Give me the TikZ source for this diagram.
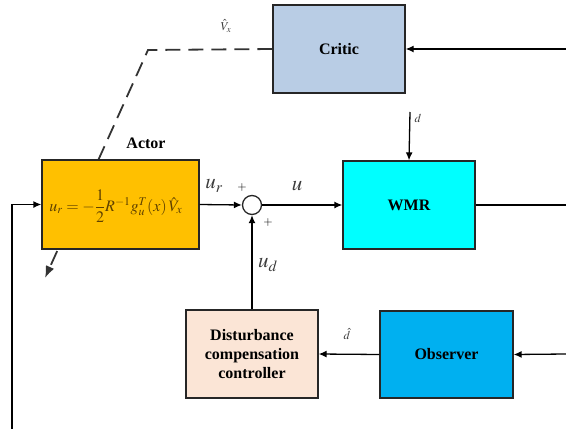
\documentclass[tikz,border=0pt]{standalone}
\usepackage{amsmath}
\usepackage{mathptmx}
\usepackage{fontspec}
\setmainfont{Liberation Serif}
\usetikzlibrary{arrows.meta,backgrounds}
\definecolor{criticblue}{RGB}{185,205,229}
\definecolor{actorgold}{RGB}{255,192,0}
\definecolor{wmrcyan}{RGB}{0,255,255}
\definecolor{dccpeach}{RGB}{251,229,214}
\definecolor{obsblue}{RGB}{0,176,240}
\definecolor{eqbrown}{RGB}{95,65,0}
\definecolor{labelgray}{RGB}{60,60,60}
\tikzset{
  block/.style={draw=black!85, line width=1.3pt, minimum width=132pt, minimum height=88pt,
    font=\fontsize{16}{19}\selectfont\bfseries, align=center, inner sep=0pt},
  sig/.style={line width=1.3pt, -{Latex[length=8pt,width=7pt]}},
  lbl/.style={text=labelgray, font=\fontsize{21}{23}\selectfont},
  small/.style={text=labelgray, font=\fontsize{12}{14}\selectfont}
}
\begin{document}
\begin{tikzpicture}[x=1pt, y=-1pt]
\useasboundingbox (0,0) rectangle (566,429);
% blocks
\node[block, fill=criticblue] (critic) at (339,49) {Critic};
\node[block, fill=actorgold, minimum width=157pt, minimum height=89pt] (actor) at (120.5,204.5) {};
\node[text=eqbrown, font=\fontsize{16}{18}\selectfont] (eq) at (116,206)
  {$u_r=-\dfrac{1}{2}R^{-1}g_u^T(x)\,\hat{V}_x$};
\node[font=\fontsize{16}{19}\selectfont\bfseries] (actorlbl) at (146,143) {Actor};
\node[block, fill=wmrcyan] (wmr) at (409,205) {WMR};
\node[draw=black!85, line width=1.3pt, circle, fill=white, minimum size=19pt, inner sep=0pt] (sum) at (252,205) {};
\node[block, fill=dccpeach] (dcc) at (252,354) {Disturbance\\compensation\\controller};
\node[block, fill=obsblue, minimum width=133pt, minimum height=87pt] (obs) at (446.5,354.5) {Observer};

% free ends
\coordinate (cin) at (566,49);
\coordinate (wout) at (566,205);
\coordinate (oin) at (566,354);
\coordinate (dist) at (410,112);
\coordinate (fb) at (12,429);
\coordinate (bend) at (148,50);
\coordinate (tune) at (45,278);

% connectors
\draw[sig] (cin) -- (critic.east);
\draw[line width=1.3pt] (wmr.east) -- (wout);
\draw[sig] (oin) -- (obs.east);
\draw[sig] (dist) -- (wmr.north);
\draw[sig] (fb) |- (actor.west);
\draw[sig] (actor.east) -- (sum.west);
\draw[sig] (sum.east) -- (wmr.west);
\draw[sig] (dcc.north) -- (sum.south);
\draw[sig] (obs.west) -- (dcc.east);
\begin{scope}[on background layer]
\draw[line width=1.8pt, dash pattern=on 15pt off 8pt, draw=black!80, -{Latex[length=12pt,width=9pt]}]
  (critic.west) -- (bend) -- (tune);
\end{scope}

% labels
\node[small] (vx) at (226,26) {$\hat{V}_x$};
\node[lbl] (ur) at (214,186) {$u_r$};
\node[small, text=black] (p1) at (242,187) {$+$};
\node[small, text=black] (p2) at (268,222) {$+$};
\node[lbl] (u) at (297,186) {$u$};
\node[lbl] (ud) at (268,265) {$u_d$};
\node[small] (dl) at (418,118) {$d$};
\node[small] (dh) at (347,334) {$\hat{d}$};
\end{tikzpicture}
\end{document}
